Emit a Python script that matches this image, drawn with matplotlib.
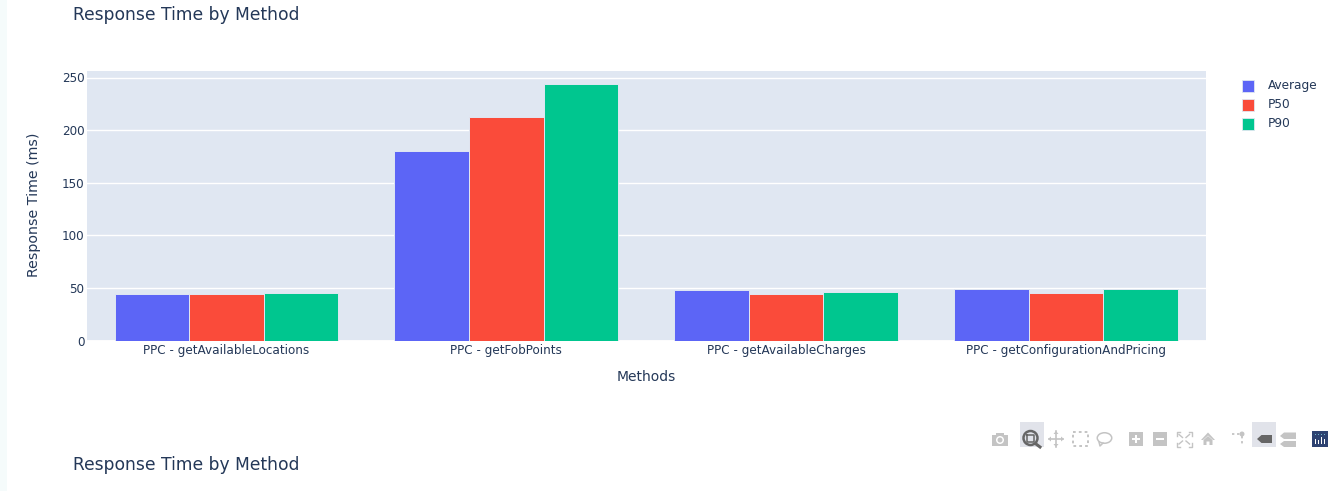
import numpy as np
import matplotlib
matplotlib.use("Agg")
import matplotlib.pyplot as plt
from matplotlib.patches import Rectangle, Polygon, Ellipse
from matplotlib.lines import Line2D

categories = ["PPC - getAvailableLocations", "PPC - getFobPoints",
              "PPC - getAvailableCharges", "PPC - getConfigurationAndPricing"]
average = [44, 180, 48, 49]
p50 = [44, 212, 44, 45]
p90 = [45, 244, 46, 49]
series_names = ["Average", "P50", "P90"]
series_colors = ["#5C65F6", "#FA4B3A", "#00C68F"]
y_ticks = [0, 50, 100, 150, 200, 250]
title_text = "Response Time by Method"
x_title = "Methods"
y_title = "Response Time (ms)"

W, H = 1334, 491
INK = "#243858"
BG = "#E0E7F2"
plt.rcParams["font.family"] = ["DejaVu Sans"]
fig = plt.figure(figsize=(W / 100, H / 100), dpi=100, facecolor="white")


def fx(x):
    return x / W


def fy(y):
    return 1 - y / H


L, R, T, B = 86.6, 1205.8, 71, 340.5
ax = fig.add_axes([fx(L), fy(B), (R - L) / W, (B - T) / H], facecolor=BG)
ax.set_axisbelow(True)
for s in ax.spines.values():
    s.set_visible(False)

xs = np.arange(len(categories))
bw = 0.8 / 3
for i, (vals, name, col) in enumerate(zip([average, p50, p90], series_names, series_colors)):
    ax.bar(xs + (i - 1) * bw, vals, width=bw, color=col, edgecolor=BG,
           linewidth=0.7, label=name, zorder=3)

ax.set_xlim(-0.5, 3.5)
ax.set_ylim(0, (B - T) / 1.052)
ax.set_yticks(y_ticks)
ax.set_xticks(xs)
ax.set_xticklabels(categories)
ax.grid(axis="y", color="white", linewidth=1)
ax.axhline(0, color="white", linewidth=2, zorder=2)
ax.tick_params(axis="both", length=0, labelsize=8.65, labelcolor=INK)
ax.tick_params(axis="x", pad=2.5)
ax.tick_params(axis="y", pad=1.5)

fig.text(fx(73), fy(15), title_text, fontsize=12.3, color=INK, ha="left", va="center")
fig.text(fx(73), fy(465), title_text, fontsize=12.3, color=INK, ha="left", va="center")
fig.text(fx(646), fy(377), x_title, fontsize=10, color=INK, ha="center", va="center")
fig.text(fx(34), fy(205), y_title, fontsize=10.2, color=INK, ha="center", va="center", rotation=90)

# page strip on the left
fig.add_artist(Rectangle((0, 0), fx(7), 1, transform=fig.transFigure, color="#F5FBFB", lw=0))

# legend
for yy, name, col in zip([86, 104.5, 123.5], series_names, series_colors):
    fig.add_artist(Rectangle((fx(1242), fy(yy + 6)), 12 / W, 12 / H, transform=fig.transFigure,
                             facecolor=col, edgecolor=BG, lw=0.6))
    fig.text(fx(1268), fy(yy), name, fontsize=8.7, color=INK, ha="left", va="center")

# mode bar
G = "#C4C4C4"
D = "#666666"
HL = "#E1E3EA"
tr = fig.transFigure


def rect(x0, y0, x1, y1, c=G):
    fig.add_artist(Rectangle((fx(x0), fy(y1)), (x1 - x0) / W, (y1 - y0) / H, transform=tr,
                             facecolor=c, lw=0))


def poly(pts, c=G):
    fig.add_artist(Polygon([(fx(a), fy(b)) for a, b in pts], closed=True, transform=tr,
                           facecolor=c, lw=0))


def line(xs_, ys_, c=G, lw=1.2, ls="-"):
    fig.add_artist(Line2D([fx(a) for a in xs_], [fy(b) for b in ys_], transform=tr,
                          color=c, lw=lw, ls=ls))


def ell(x, y, w, h, fc=G, ec="none", lw=0):
    fig.add_artist(Ellipse((fx(x), fy(y)), w / W, h / H, transform=tr, facecolor=fc, edgecolor=ec, lw=lw))


# active backgrounds
rect(1020, 422, 1044, 447, HL)
rect(1252, 422, 1276, 447, HL)
# camera
rect(992, 435, 1008, 445.5)
rect(996, 432.5, 1004, 436)
ell(1000, 440, 8, 8, "white")
ell(1000, 440, 5, 5, G)
# zoom
ell(1030.5, 438, 14, 14, HL, D, 1.8)
line([1027, 1034, 1034, 1027, 1027], [434.5, 434.5, 441.5, 441.5, 434.5], D, 1.1)
line([1036, 1040], [444, 447], D, 2.2)
# pan
line([1049, 1063], [439, 439], G, 1.2)
line([1056, 1056], [431, 447], G, 1.2)
poly([(1048, 439), (1051, 436.5), (1051, 441.5)])
poly([(1064, 439), (1061, 436.5), (1061, 441.5)])
poly([(1056, 431), (1053.5, 434), (1058.5, 434)])
poly([(1056, 447), (1053.5, 444), (1058.5, 444)])
# box select
line([1073, 1088, 1088, 1073, 1073], [431.5, 431.5, 446, 446, 431.5], G, 1.4, (0, (1.4, 1.6)))
# lasso
ell(1104.5, 438, 14.5, 10.5, "none", G, 1.1)
line([1099, 1100, 1103], [442, 446, 443], G, 1.1)
# zoom in / out
rect(1129, 432, 1143, 446)
rect(1132, 438, 1140, 440, "white")
rect(1135, 435, 1137, 443, "white")
rect(1153, 432, 1167, 446)
rect(1156, 438, 1164, 440, "white")
# autoscale
for cx, cy, sx, sy in [(1176.5, 432, 1, 1), (1192, 432, -1, 1), (1176.5, 446.5, 1, -1), (1192, 446.5, -1, -1)]:
    line([cx, cx, cx + sx * 3.5], [cy + sy * 3.5, cy, cy], G, 1)
    line([cx + sx * 2.5, cx + sx * 6], [cy + sy * 2.5, cy + sy * 5.5], G, 1)
# home
poly([(1201, 440), (1208, 432.5), (1215, 440), (1213, 440), (1208, 435.5), (1203, 440)])
poly([(1203.5, 440), (1208, 436), (1212.5, 440), (1212.5, 445), (1209.5, 445), (1209.5, 441.5),
      (1206.5, 441.5), (1206.5, 445), (1203.5, 445)])
# spike lines
ell(1242, 434, 5, 5)
line([1232, 1240], [434, 434], G, 1.3, (0, (1.3, 1.5)))
line([1242, 1242], [436, 445], G, 1.3, (0, (1.3, 1.5)))
# compare: closest (active), compare
poly([(1257, 439), (1261.5, 435), (1272, 435), (1272, 443), (1261.5, 443)], D)
poly([(1280, 436), (1284, 432.5), (1296, 432.5), (1296, 439), (1284, 439)])
poly([(1280, 444), (1284, 441), (1296, 441), (1296, 447), (1284, 447)])
# plotly logo
rect(1312, 431, 1328, 447, "#2E4372")
for x, top in zip([1315, 1318, 1321, 1324], [438.5, 440, 437, 439]):
    rect(x, top, x + 1.2, 444, "white")
    rect(x, 434, x + 1.2, 435.4, "#6FB3C8")

fig.savefig("out.png", dpi=100, facecolor="white")
